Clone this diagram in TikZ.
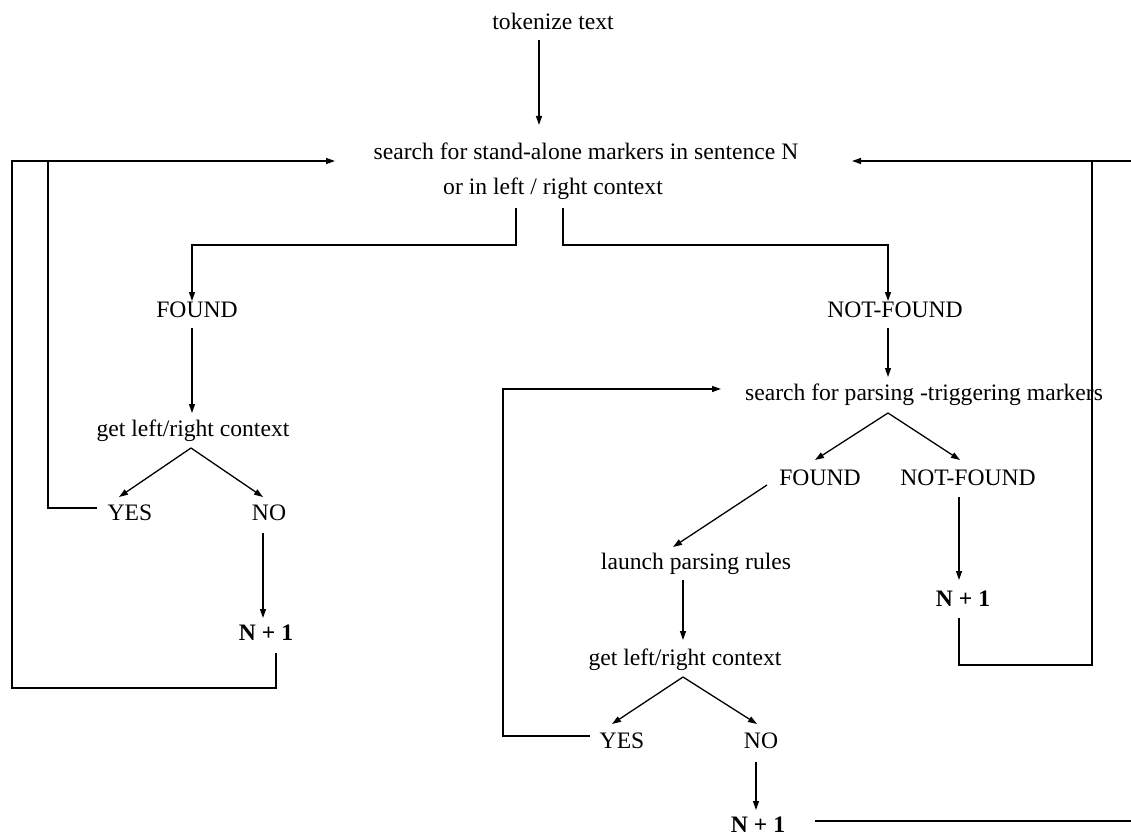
\documentclass[tikz,border=0pt]{standalone}
\usepackage{fontspec}
\setmainfont{Liberation Serif}
\usetikzlibrary{arrows.meta,calc}
\begin{document}
\begin{tikzpicture}[x=1pt,y=-1pt,
  txt/.style={inner sep=0pt,outer sep=0pt,text height=16pt,text depth=0pt,anchor=center,
    font=\fontsize{23.6}{28}\selectfont},
  ln/.style={line width=1.3pt,line join=miter},
  arr/.style={ln,-{Triangle[length=9pt,width=6pt]}}]
\useasboundingbox (0,0) rectangle (1131,834);
% nodes
\node[txt] (tok) at (553,22) {tokenize text};
\node[txt] (s1) at (586,152) {search for stand-alone markers in sentence N};
\node[txt] (s2) at (553,187) {or in left / right context};
\node[txt] (f1) at (197,309) {FOUND};
\node[txt] (nf1) at (895,309) {NOT-FOUND};
\node[txt] (c1) at (193,428) {get left/right context};
\node[txt] (y1) at (130,512) {YES};
\node[txt] (n1) at (269,512) {NO};
\node[txt] (np1) at (266,632) {\textbf{N + 1}};
\node[txt] (sp) at (924,392) {search for parsing -triggering markers};
\node[txt] (f2) at (820,477) {FOUND};
\node[txt] (nf2) at (968,477) {NOT-FOUND};
\node[txt] (la) at (696,561) {launch parsing rules};
\node[txt] (np2) at (963,598) {\textbf{N + 1}};
\node[txt] (c2) at (685,657) {get left/right context};
\node[txt] (y2) at (622,740) {YES};
\node[txt] (n2) at (761,740) {NO};
\node[txt] (np3) at (758,824) {\textbf{N + 1}};
% free ends / corners
\coordinate (LB) at (12,688);
\coordinate (J1) at (48,161);
\coordinate (RB) at (1092,665);
\coordinate (J3) at (1092,161);
\coordinate (ET) at (1131,161);
\coordinate (ER) at (1131,821);
% connectors
\draw[arr] ($(tok.south)+(-14,10)$) -- ($(s1.north)+(-47,-19)$);
\draw[arr] ($(np1.south)+(10,13)$) |- (LB) |- ($(s1.south)+(-251,1)$);
\draw[ln] ($(y1.south)+(-33,-12)$) -| (J1);
\draw[arr] (ET) -- ($(s1.south)+(266,1)$);
\draw[ln] ($(np2.south)+(-4,12)$) |- (RB) -- (J3);
\draw[arr] ($(s2.south)+(-37,13)$) -- ++(0,37) -| ($(f1.north)+(-5,0)$);
\draw[arr] ($(s2.south)+(10,13)$) -- ++(0,37) -| ($(nf1.north)+(-7,0)$);
\draw[arr] ($(f1.south)+(-5,11)$) -- ($(c1.north)+(-1,-7)$);
\draw[arr] ($(c1.south)+(-2,12)$) -- ($(y1.north)+(-11,-7)$);
\draw[arr] ($(c1.south)+(-2,12)$) -- ($(n1.north)+(-6,-7)$);
\draw[arr] ($(n1.south)+(-6,13)$) -- ($(np1.north)+(-3,-6)$);
\draw[arr] ($(nf1.south)+(-7,11)$) -- ($(sp.north)+(-36,-7)$);
\draw[arr] ($(sp.south)+(-36,13)$) -- ($(f2.north)+(-5,-9)$);
\draw[arr] ($(sp.south)+(-36,13)$) -- ($(nf2.north)+(-8,-9)$);
\draw[arr] ($(f2.south)+(-53,0)$) -- ($(la.north)+(-23,-6)$);
\draw[arr] ($(la.south)+(-13,11)$) -- ($(c2.north)+(-2,-9)$);
\draw[arr] ($(c2.south)+(-2,12)$) -- ($(y2.north)+(-10,-8)$);
\draw[arr] ($(c2.south)+(-2,12)$) -- ($(n2.north)+(-4,-8)$);
\draw[arr] ($(y2.south)+(-32,-12)$) -| ($(sp.south)+(-421,-11)$) -- ($(sp.south)+(-203,-11)$);
\draw[arr] ($(n2.south)+(-5,14)$) -- ($(np3.north)+(-2,-6)$);
\draw[ln] ($(np3.south)+(57,-11)$) -- (ER);
\draw[arr] ($(nf2.south)+(-9,12)$) -- ($(np2.north)+(-4,-10)$);
\end{tikzpicture}
\end{document}
